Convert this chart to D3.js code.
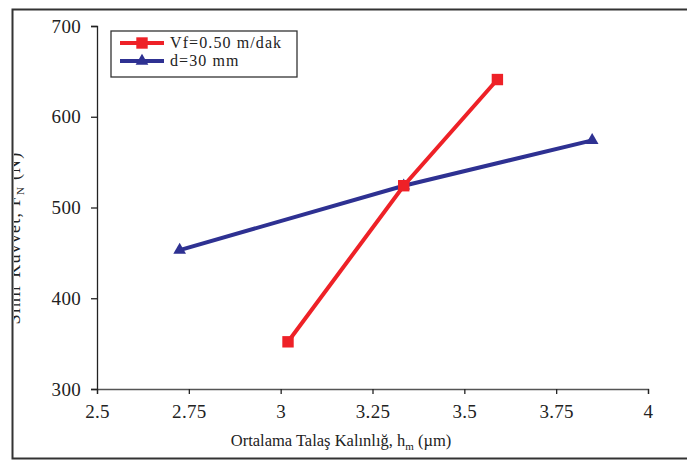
<!DOCTYPE html>
<html>
<head>
<meta charset="utf-8">
<script src="https://cdn.jsdelivr.net/npm/d3@7"></script>
<style>
  body { margin: 0; background: #fff; }
  text { font-family: "Liberation Serif", "Times New Roman", serif; }
</style>
</head>
<body>
<div id="chart"></div>
<script>
// data
const seriesNames = ["Vf=0.50 m/dak", "d=30 mm"];
const vfX = [3.02, 3.335, 3.59];
const vfY = [352, 524, 641];
const dX = [2.725, 3.335, 3.848];
const dY = [453, 524, 574];
const xTicks = [2.5, 2.75, 3, 3.25, 3.5, 3.75, 4];
const yTicks = [300, 400, 500, 600, 700];

const W = 687, H = 460;
const svg = d3.select("#chart").append("svg")
  .attr("width", W).attr("height", H);

// outer frame (right side runs off the page)
svg.append("rect")
  .attr("x", 12.5).attr("y", 9.5)
  .attr("width", 700).attr("height", 449)
  .attr("fill", "none").attr("stroke", "#333").attr("stroke-width", 2);

// scales
const xScale = d3.scaleLinear().domain([2.5, 4]).range([97, 648]);
const yScale = d3.scaleLinear().domain([300, 700]).range([389, 26]);

// axes
const xAxis = d3.axisBottom(xScale).tickValues(xTicks).tickSize(5).tickPadding(11)
  .tickFormat(d => String(d));
const yAxis = d3.axisLeft(yScale).tickValues(yTicks).tickSize(6).tickPadding(10);

const gx = svg.append("g").attr("transform", `translate(0, ${yScale(300)})`).call(xAxis);
const gy = svg.append("g").attr("transform", `translate(${xScale(2.5)}, 0)`).call(yAxis);
[gx, gy].forEach(g => {
  g.attr("font-family", null).attr("font-size", null);
  g.select(".domain").attr("stroke", "#222").attr("stroke-width", 1.3);
  g.selectAll(".tick line").attr("stroke", "#222").attr("stroke-width", 1.3);
  g.selectAll(".tick text").style("font-size", "19px").attr("fill", "#222")
    .attr("letter-spacing", 0.3)
    .style("font-family", "'Liberation Serif', serif");
});
gx.select(".domain").attr("stroke", "#555");

// axis titles
const xt = svg.append("text")
  .attr("x", 341).attr("y", 446)
  .attr("text-anchor", "middle").style("font-size", "16.5px").attr("fill", "#222");
xt.append("tspan").text("Ortalama Talaş Kalınlığ, h");
xt.append("tspan").style("font-size", "11px").attr("dy", 4).text("m");
xt.append("tspan").attr("dy", -4).text(" (µm)");

// y title is cut by the left edge of the frame
svg.append("clipPath").attr("id", "leftclip")
  .append("rect").attr("x", 14).attr("y", 0).attr("width", 100).attr("height", H);
const yt = svg.append("g").attr("clip-path", "url(#leftclip)")
  .append("text")
  .attr("transform", "translate(20, 238) rotate(-90)")
  .attr("text-anchor", "middle").style("font-size", "18px")
  .attr("letter-spacing", 1.2).attr("fill", "#222");
yt.append("tspan").text("Sınır Kuvvet, F");
yt.append("tspan").style("font-size", "11px").attr("dy", 4).text("N");
yt.append("tspan").attr("dy", -4).text(" (N)");

// lines
const red = "#ee2127", blue = "#2e3192";
const line = d3.line().x(d => xScale(d[0])).y(d => yScale(d[1]));
const vf = vfX.map((x, i) => [x, vfY[i]]);
const dd = dX.map((x, i) => [x, dY[i]]);

svg.append("path").datum(dd).attr("d", line)
  .attr("fill", "none").attr("stroke", blue).attr("stroke-width", 4);
svg.append("path").datum(vf).attr("d", line)
  .attr("fill", "none").attr("stroke", red).attr("stroke-width", 4);

const tri = d3.symbol().type(d3.symbolTriangle).size(70);
const sq = d3.symbol().type(d3.symbolSquare).size(130);

svg.selectAll(".tri").data(dd).enter().append("path")
  .attr("transform", d => `translate(${xScale(d[0])}, ${yScale(d[1])})`)
  .attr("d", tri).attr("fill", blue);
svg.selectAll(".sq").data(vf).enter().append("path")
  .attr("transform", d => `translate(${xScale(d[0])}, ${yScale(d[1])})`)
  .attr("d", sq).attr("fill", red);

// legend
const lg = svg.append("g").attr("transform", "translate(111, 31)");
lg.append("rect").attr("width", 186).attr("height", 46)
  .attr("fill", "#fff").attr("stroke", "#333").attr("stroke-width", 1.3);
const entries = [
  { name: seriesNames[0], color: red, sym: sq },
  { name: seriesNames[1], color: blue, sym: tri }
];
entries.forEach((e, i) => {
  const y = 12 + i * 18;
  lg.append("line").attr("x1", 9).attr("x2", 53).attr("y1", y).attr("y2", y)
    .attr("stroke", e.color).attr("stroke-width", 4);
  lg.append("path").attr("transform", `translate(31, ${y})`)
    .attr("d", e.sym).attr("fill", e.color);
  lg.append("text").attr("x", 59).attr("y", y + 5)
    .style("font-size", "16px").attr("fill", "#222").attr("letter-spacing", 1.1)
    .text(e.name);
});
</script>
</body>
</html>
